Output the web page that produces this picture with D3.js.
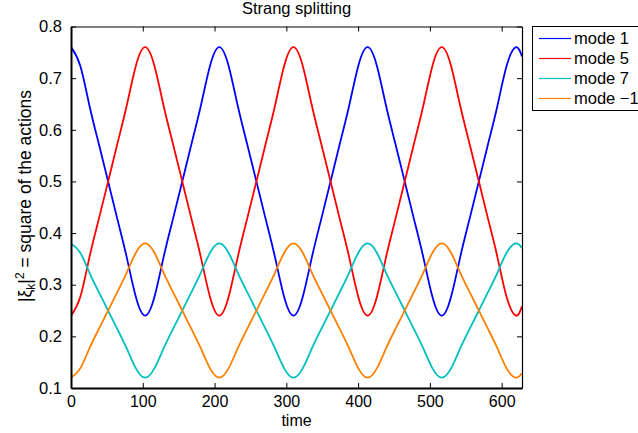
<!DOCTYPE html>
<html>
<head>
<meta charset="utf-8">
<script src="https://cdn.jsdelivr.net/npm/d3@7"></script>
<style>
  html, body { margin: 0; padding: 0; background: #fff; }
  svg { display: block; }
  text { font-family: "Liberation Sans", Arial, Helvetica, sans-serif; fill: #000; }
</style>
</head>
<body>
<svg id="chart" width="638" height="433"></svg>
<script>
// ---- data ----
const time = [0, 12.9, 25.8, 38.7, 51.7, 64.6, 77.5, 90.4, 103.3, 116.2, 129.1, 142.0, 155.0, 167.9, 180.8, 193.7,
  206.6, 219.5, 232.4, 245.3, 258.3, 271.2, 284.1, 297.0, 309.9, 322.8, 335.7, 348.6, 361.6, 374.5, 387.4, 400.3,
  413.2, 426.1, 439.0, 451.9, 464.9, 477.8, 490.7, 503.6, 516.5, 529.4, 542.3, 555.2, 568.2, 581.1, 594.0, 606.9,
  619.8, 628.3];
const mode1 = [0.760,0.724,0.646,0.573,0.500,0.427,0.354,0.276,0.240,0.276,0.354,0.427,0.500,0.573,0.646,0.724,
  0.760,0.724,0.646,0.573,0.500,0.427,0.354,0.276,0.240,0.276,0.354,0.427,0.500,0.573,0.646,0.724,
  0.760,0.724,0.646,0.573,0.500,0.427,0.354,0.276,0.240,0.276,0.354,0.427,0.500,0.573,0.646,0.724,
  0.760,0.742];
const mode5 = [0.240,0.276,0.354,0.427,0.500,0.573,0.646,0.724,0.760,0.724,0.646,0.573,0.500,0.427,0.354,0.276,
  0.240,0.276,0.354,0.427,0.500,0.573,0.646,0.724,0.760,0.724,0.646,0.573,0.500,0.427,0.354,0.276,
  0.240,0.276,0.354,0.427,0.500,0.573,0.646,0.724,0.760,0.724,0.646,0.573,0.500,0.427,0.354,0.276,
  0.240,0.258];
const mode7 = [0.380,0.362,0.323,0.286,0.250,0.214,0.177,0.138,0.120,0.138,0.177,0.214,0.250,0.286,0.323,0.362,
  0.380,0.362,0.323,0.286,0.250,0.214,0.177,0.138,0.120,0.138,0.177,0.214,0.250,0.286,0.323,0.362,
  0.380,0.362,0.323,0.286,0.250,0.214,0.177,0.138,0.120,0.138,0.177,0.214,0.250,0.286,0.323,0.362,
  0.380,0.371];
const modeM1 = [0.120,0.138,0.177,0.214,0.250,0.286,0.323,0.362,0.380,0.362,0.323,0.286,0.250,0.214,0.177,0.138,
  0.120,0.138,0.177,0.214,0.250,0.286,0.323,0.362,0.380,0.362,0.323,0.286,0.250,0.214,0.177,0.138,
  0.120,0.138,0.177,0.214,0.250,0.286,0.323,0.362,0.380,0.362,0.323,0.286,0.250,0.214,0.177,0.138,
  0.120,0.129];
const seriesNames = ["mode 1", "mode 5", "mode 7", "mode \u22121"];
const seriesColors = ["#0000ff", "#ff0000", "#00bfbf", "#ff8000"];
const xTicks = [0, 100, 200, 300, 400, 500, 600];
const yTicks = [0.1, 0.2, 0.3, 0.4, 0.5, 0.6, 0.7, 0.8];
const titleText = "Strang splitting";
const xLabel = "time";

// ---- layout ----
const L = 71, R = 522, T = 26.5, B = 388;
const svg = d3.select("#chart");
const x = d3.scaleLinear().domain([0, 628.3]).range([L, R]);
const y = d3.scaleLinear().domain([0.1, 0.8]).range([B, T]);
const FS = 16.5;

const allSeries = [mode1, mode5, mode7, modeM1];

// lines
const line = d3.line()
  .x((d, i) => x(time[i]))
  .y(d => y(d))
  .curve(d3.curveNatural);

const plot = svg.append("g");
plot.append("clipPath").attr("id", "clip").append("rect")
  .attr("x", L).attr("y", T).attr("width", R - L).attr("height", B - T);
const lines = plot.append("g").attr("clip-path", "url(#clip)");
allSeries.forEach((s, k) => {
  lines.append("path").datum(s)
    .attr("d", line)
    .attr("fill", "none")
    .attr("stroke", seriesColors[k])
    .attr("stroke-width", 1.8);
});

// axes (MATLAB style box with inward ticks)
const xAxisB = d3.axisBottom(x).tickValues(xTicks).tickSizeInner(-5).tickSizeOuter(0).tickPadding(8).tickFormat(d3.format("d"));
const xAxisT = d3.axisTop(x).tickValues(xTicks).tickSizeInner(-5).tickSizeOuter(0).tickFormat("");
const yAxisL = d3.axisLeft(y).tickValues(yTicks).tickSizeInner(-5).tickSizeOuter(0).tickPadding(9).tickFormat(d3.format(".1f"));
const yAxisR = d3.axisRight(y).tickValues(yTicks).tickSizeInner(-5).tickSizeOuter(0).tickFormat("");

function styleAxis(g, w, fs) {
  g.select(".domain").attr("stroke", "#000").attr("stroke-width", w);
  g.selectAll(".tick line").attr("stroke", "#000").attr("stroke-width", 1);
  g.selectAll(".tick text").attr("font-size", fs).attr("font-family", "Liberation Sans, Arial, sans-serif").attr("fill", "#000");
}
svg.append("g").attr("transform", `translate(0,${T})`).call(xAxisT).call(g => styleAxis(g, 1.2, FS));
svg.append("g").attr("transform", `translate(${R},0)`).call(yAxisR).call(g => styleAxis(g, 1.2, FS));
svg.append("g").attr("transform", `translate(0,${B})`).call(xAxisB).call(g => styleAxis(g, 2, 16));
svg.append("g").attr("transform", `translate(${L},0)`).call(yAxisL).call(g => styleAxis(g, 2, FS));

// title
svg.append("text")
  .attr("x", (L + R) / 2).attr("y", 13.5)
  .attr("text-anchor", "middle")
  .attr("font-size", FS)
  .text(titleText);

// x label
svg.append("text")
  .attr("x", (L + R) / 2).attr("y", 426)
  .attr("text-anchor", "middle")
  .attr("font-size", 16)
  .text(xLabel);

// y label
const yl = svg.append("text")
  .attr("transform", "translate(31,196) rotate(-90)")
  .attr("text-anchor", "middle")
  .attr("font-size", 17.5);
yl.append("tspan").text("|\u03BE");
yl.append("tspan").attr("font-size", 12).attr("dy", 4).text("k");
yl.append("tspan").attr("dy", -4).text("|");
yl.append("tspan").attr("font-size", 12).attr("dy", -7).text("2");
yl.append("tspan").attr("dy", 7).text(" = square of the actions");

// legend
const lg = svg.append("g");
lg.append("rect")
  .attr("x", 532.5).attr("y", 26.5).attr("width", 120).attr("height", 84)
  .attr("fill", "#fff").attr("stroke", "#000").attr("stroke-width", 1);
seriesNames.forEach((name, k) => {
  const cy = 38.5 + k * 20;
  lg.append("line")
    .attr("x1", 539).attr("x2", 571).attr("y1", cy).attr("y2", cy)
    .attr("stroke", seriesColors[k]).attr("stroke-width", 1.2);
  lg.append("text")
    .attr("x", 574).attr("y", cy + 5.8)
    .attr("font-size", FS)
    .text(name);
});
</script>
</body>
</html>
